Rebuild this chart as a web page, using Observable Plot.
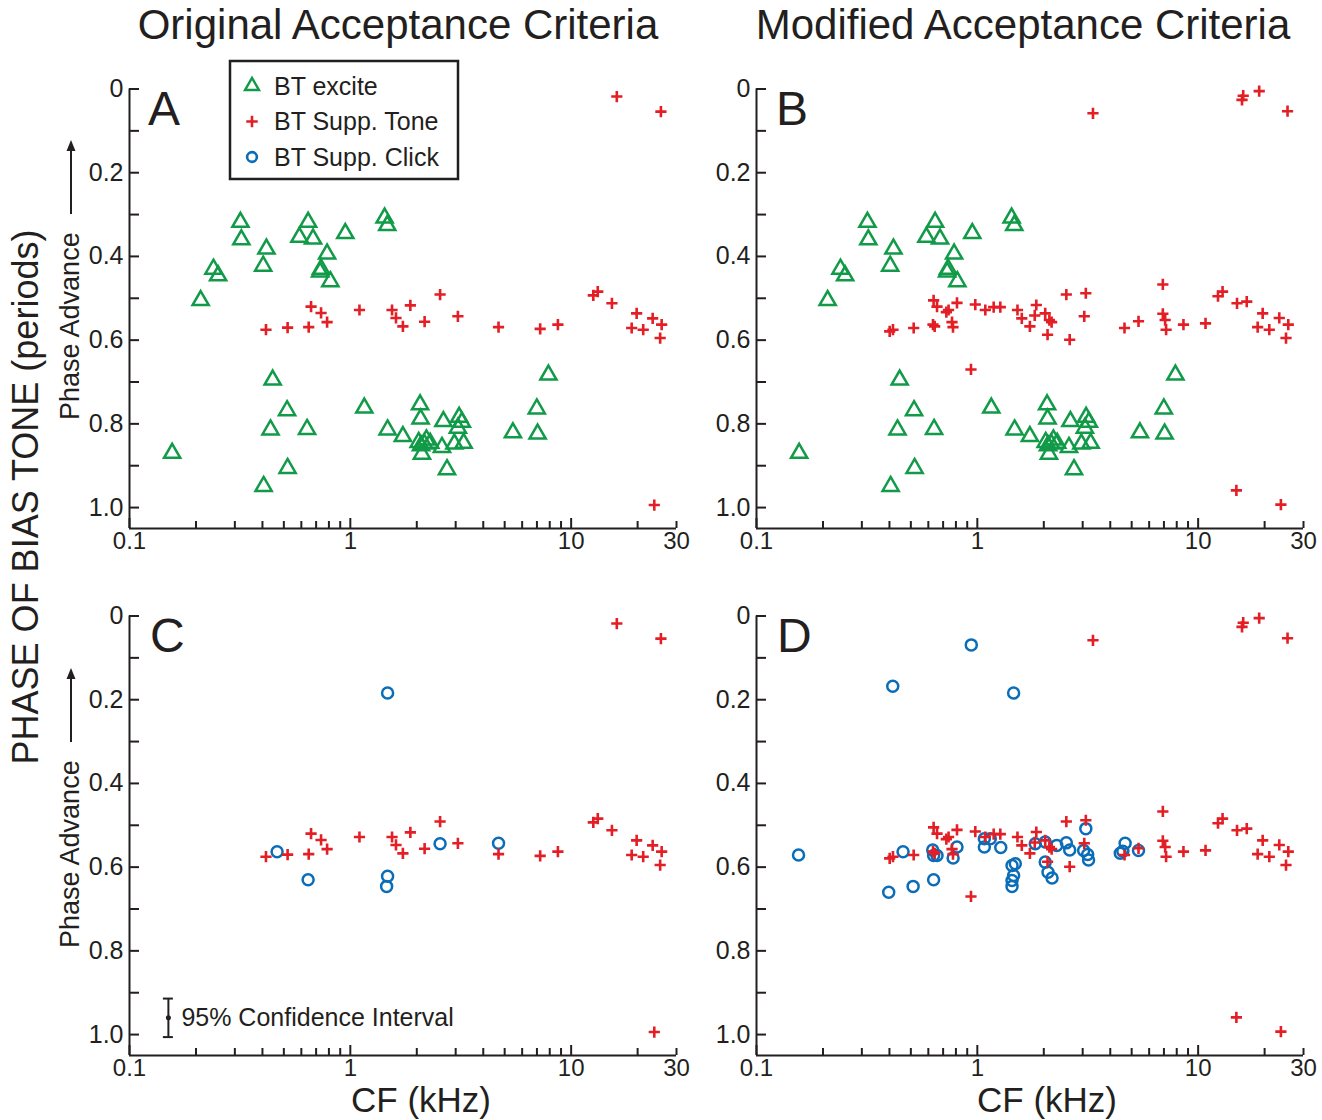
<!DOCTYPE html>
<html><head><meta charset="utf-8">
<script src="https://cdn.jsdelivr.net/npm/d3@7"></script>
<script src="https://cdn.jsdelivr.net/npm/@observablehq/plot@0.6"></script>
<style>
body{margin:0;background:#fff;}
#root{position:relative;width:1322px;height:1120px;overflow:hidden;font-family:"Liberation Sans",Arial,sans-serif;color:#231f20;background:#fff;}
.panel{position:absolute;}
#overlay{position:absolute;left:0;top:0;pointer-events:none;}
</style></head><body><div id="root"></div>
<script>
// ---------- data ----------
const exciteCF = [0.318,0.321,0.240,0.252,0.210,0.644,0.588,0.678,0.417,0.403,0.785,0.737,0.730,0.812,0.949,1.43,1.47,0.445,0.517,0.435,0.637,0.156,0.520,0.405,1.157,1.475,1.73,2.07,2.08,2.64,3.11,3.20,3.07,2.04,2.21,2.30,2.09,2.11,2.60,2.96,3.26,2.74,7.89,6.99,7.05,5.45,2.16];
const excitePhase = [0.318,0.360,0.430,0.446,0.505,0.318,0.354,0.358,0.382,0.423,0.394,0.430,0.437,0.460,0.345,0.308,0.326,0.695,0.768,0.814,0.813,0.870,0.906,0.949,0.762,0.814,0.830,0.754,0.788,0.794,0.784,0.796,0.810,0.844,0.838,0.846,0.852,0.872,0.856,0.848,0.846,0.909,0.683,0.764,0.824,0.821,0.848];

const toneOrigCF = [0.664,0.737,0.785,0.415,0.520,0.648,1.10,1.545,1.61,1.73,1.87,2.55,2.17,3.07,4.69,7.24,8.71,12.6,13.2,15.3,19.8,23.4,25.7,18.8,21.2,25.3,23.8,16.1,25.5];
const toneOrigPhase = [0.520,0.535,0.557,0.575,0.570,0.569,0.528,0.528,0.547,0.567,0.517,0.491,0.556,0.543,0.569,0.573,0.563,0.493,0.484,0.512,0.536,0.548,0.563,0.571,0.575,0.595,0.994,0.018,0.054];

const toneModCF = [0.634,0.657,0.809,0.724,0.741,0.979,1.087,1.186,0.401,0.415,0.515,0.630,0.641,0.768,0.776,0.936,1.271,1.52,1.59,1.73,1.85,1.82,2.03,2.12,2.17,2.08,2.53,3.10,3.05,2.62,4.64,5.37,6.92,6.92,7.09,7.16,8.58,10.8,12.3,12.9,15.0,16.6,19.6,23.3,25.6,18.6,21.0,25.0,3.34,15.8,16.0,18.9,25.4,14.9,23.7];
const toneModPhase = [0.505,0.520,0.511,0.533,0.528,0.515,0.528,0.521,0.579,0.575,0.571,0.563,0.567,0.557,0.569,0.670,0.521,0.528,0.548,0.567,0.516,0.541,0.536,0.552,0.557,0.587,0.491,0.488,0.543,0.599,0.571,0.555,0.467,0.537,0.552,0.575,0.563,0.560,0.495,0.484,0.512,0.508,0.536,0.547,0.563,0.569,0.575,0.595,0.058,0.026,0.016,0.005,0.053,0.959,0.993];

const clickOrigCF = [1.475,0.466,0.644,1.475,1.46,2.55,4.69];
const clickOrigPhase = [0.184,0.563,0.630,0.622,0.646,0.544,0.543];

const clickModCF = [0.939,0.414,1.46,0.155,0.461,0.628,0.634,0.657,0.809,0.777,1.076,1.145,1.076,1.277,0.397,0.512,0.634,1.436,1.486,1.46,1.436,1.436,1.83,2.03,2.29,2.53,2.62,2.03,2.09,2.18,3.10,3.03,3.16,3.19,4.67,4.44,4.56,5.37];
const clickModPhase = [0.069,0.168,0.184,0.571,0.563,0.559,0.572,0.572,0.552,0.578,0.532,0.532,0.552,0.553,0.660,0.646,0.630,0.596,0.592,0.620,0.632,0.646,0.544,0.540,0.548,0.542,0.559,0.588,0.612,0.626,0.508,0.560,0.570,0.583,0.543,0.567,0.562,0.560];

const ciCF = [0.15];
const ciPhase = [0.96];
const ciHalf = [0.046];
const ciLabel = ["95% Confidence Interval"];

const xTickLabels = [0.1, 1, 10, 30];
const xMajorTicks = [0.1, 1, 10];
const xMinorTicks = [0.2,0.3,0.4,0.5,0.6,0.7,0.8,0.9,2,3,4,5,6,7,8,9,20,30];
const yTicks = [0,0.1,0.2,0.3,0.4,0.5,0.6,0.7,0.8,0.9,1.0];
const yTickLabels = [0,0.2,0.4,0.6,0.8,1.0];
const xDomain = [0.1, 30];
const yDomain = [0, 1.05];

const seriesNames = ["BT excite", "BT Supp. Tone", "BT Supp. Click"];
const titles = ["Original Acceptance Criteria", "Modified Acceptance Criteria"];
const panelLetters = ["A", "B", "C", "D"];

// ---------- style ----------
const ink = "#231f20";
const green = "#119a48";
const red = "#e31e25";
const blue = "#0b6db7";
const FONT = "'Liberation Sans', Arial, sans-serif";

const rows = (cf, ph) => cf.map((c, i) => ({cf: c, phase: ph[i]}));
const ciRows = ciCF.map((c, i) => ({cf: c, phase: ciPhase[i], lo: ciPhase[i] - ciHalf[i], hi: ciPhase[i] + ciHalf[i], label: ciLabel[i]}));

function makePanel({excite, tone, click, ci, width, marginRight}) {
  const marks = [
    Plot.ruleX([xDomain[0]], {stroke: ink, strokeWidth: 2}),
    Plot.ruleY([yDomain[1]], {stroke: ink, strokeWidth: 2}),
    Plot.axisY(yTicks, {anchor: "left", tickSize: -10, tickFormat: () => "", strokeWidth: 2, label: null}),
    Plot.axisY(yTickLabels, {anchor: "left", tickSize: 0, tickPadding: 6, fontSize: 25, tickFormat: d => d === 0 ? "0" : d.toFixed(1), label: null}),
    Plot.axisX(xMinorTicks, {anchor: "bottom", tickSize: -7, tickFormat: () => "", strokeWidth: 2, label: null}),
    Plot.axisX(xMajorTicks, {anchor: "bottom", tickSize: -10, tickFormat: () => "", strokeWidth: 2, label: null}),
    Plot.axisX(xTickLabels, {anchor: "bottom", tickSize: 0, tickPadding: 3, fontSize: 24, tickFormat: d => String(d), label: null})
  ];
  if (excite) marks.push(Plot.dot(rows(...excite), {x: "cf", y: "phase", symbol: "triangle", r: 6, stroke: green, strokeWidth: 2.5, fill: "none"}));
  if (click) marks.push(Plot.dot(rows(...click), {x: "cf", y: "phase", symbol: "circle", r: 5.5, stroke: blue, strokeWidth: 2.5, fill: "none"}));
  if (tone) marks.push(Plot.dot(rows(...tone), {x: "cf", y: "phase", symbol: "plus", r: 3.7, stroke: red, strokeWidth: 2.6}));
  if (ci) {
    marks.push(
      Plot.ruleX(ciRows, {x: "cf", y1: "lo", y2: "hi", stroke: ink, strokeWidth: 2}),
      Plot.ruleY(ciRows, {y: "lo", x1: "cf", x2: "cf", insetLeft: -5, insetRight: -5, stroke: ink, strokeWidth: 2}),
      Plot.ruleY(ciRows, {y: "hi", x1: "cf", x2: "cf", insetLeft: -5, insetRight: -5, stroke: ink, strokeWidth: 2}),
      Plot.dot(ciRows, {x: "cf", y: "phase", r: 2.5, fill: ink}),
      Plot.text(ciRows, {x: "cf", y: "phase", text: "label", dx: 13, textAnchor: "start", fontSize: 25, fill: ink})
    );
  }
  return Plot.plot({
    width, height: 520,
    marginTop: 28.5, marginLeft: 69, marginRight, marginBottom: 52,
    x: {type: "log", domain: xDomain},
    y: {domain: yDomain, reverse: true},
    style: {fontFamily: FONT, fontSize: "25px", color: ink, background: "transparent", overflow: "visible"},
    marks
  });
}

const root = document.getElementById("root");
const panels = [
  {left: 60, top: 60, width: 640, marginRight: 24, excite: [exciteCF, excitePhase], tone: [toneOrigCF, toneOrigPhase]},
  {left: 687, top: 60, width: 635, marginRight: 19, excite: [exciteCF, excitePhase], tone: [toneModCF, toneModPhase]},
  {left: 60, top: 587, width: 640, marginRight: 24, tone: [toneOrigCF, toneOrigPhase], click: [clickOrigCF, clickOrigPhase], ci: true},
  {left: 687, top: 587, width: 635, marginRight: 19, tone: [toneModCF, toneModPhase], click: [clickModCF, clickModPhase]}
];
for (const p of panels) {
  const svg = makePanel(p);
  svg.classList.add("panel");
  svg.style.left = p.left + "px";
  svg.style.top = p.top + "px";
  root.appendChild(svg);
}

// ---------- overlay text ----------
const ov = d3.select(root).append("svg").attr("id", "overlay").attr("width", 1322).attr("height", 1120)
  .style("font-family", FONT).attr("fill", ink);

ov.append("text").attr("x", 398).attr("y", 39).attr("text-anchor", "middle").attr("font-size", 42).text(titles[0]);
ov.append("text").attr("x", 1023).attr("y", 39).attr("text-anchor", "middle").attr("font-size", 42).text(titles[1]);

ov.append("text").attr("transform", "translate(38,497) rotate(-90)").attr("text-anchor", "middle").attr("font-size", 36).text("PHASE OF BIAS TONE (periods)");

function phaseLabel(yStart, arrowEnd) {
  ov.append("text").attr("transform", `translate(79,${yStart}) rotate(-90)`).attr("text-anchor", "start").attr("font-size", 27).text("Phase Advance");
  const arrowStart = yStart - 206;
  ov.append("line").attr("x1", 71).attr("x2", 71).attr("y1", arrowStart).attr("y2", arrowEnd + 6).attr("stroke", ink).attr("stroke-width", 2);
  ov.append("path").attr("d", `M71,${arrowEnd} L66.5,${arrowEnd + 11} L75.5,${arrowEnd + 11} Z`).attr("fill", ink);
}
phaseLabel(420, 140);
phaseLabel(948, 668);

ov.append("text").attr("x", 421).attr("y", 1112).attr("text-anchor", "middle").attr("font-size", 35).text("CF (kHz)");
ov.append("text").attr("x", 1047).attr("y", 1112).attr("text-anchor", "middle").attr("font-size", 35).text("CF (kHz)");

const letterPos = [[148, 125], [776, 125], [150, 652], [777, 652]];
panelLetters.forEach((L, i) => ov.append("text").attr("x", letterPos[i][0]).attr("y", letterPos[i][1]).attr("font-size", 48).text(L));

// legend
const lg = ov.append("g");
lg.append("rect").attr("x", 230).attr("y", 61).attr("width", 228).attr("height", 118).attr("fill", "#fff").attr("stroke", ink).attr("stroke-width", 2.5);
const legendSyms = [
  {type: d3.symbolTriangle, size: 85, stroke: green, fill: "none", sw: 2.4},
  {type: d3.symbolPlus, size: 45, stroke: red, fill: "none", sw: 2.6},
  {type: d3.symbolCircle, size: 75, stroke: blue, fill: "none", sw: 2.6}
];
seriesNames.forEach((name, i) => {
  const cy = 86 + i * 35.5;
  const s = legendSyms[i];
  lg.append("path").attr("transform", `translate(252,${cy})`).attr("d", d3.symbol(s.type, s.size)())
    .attr("fill", s.fill).attr("stroke", s.stroke).attr("stroke-width", s.sw);
  lg.append("text").attr("x", 274).attr("y", cy).attr("dy", "0.35em").attr("font-size", 25).text(name);
});
</script>
</body></html>
